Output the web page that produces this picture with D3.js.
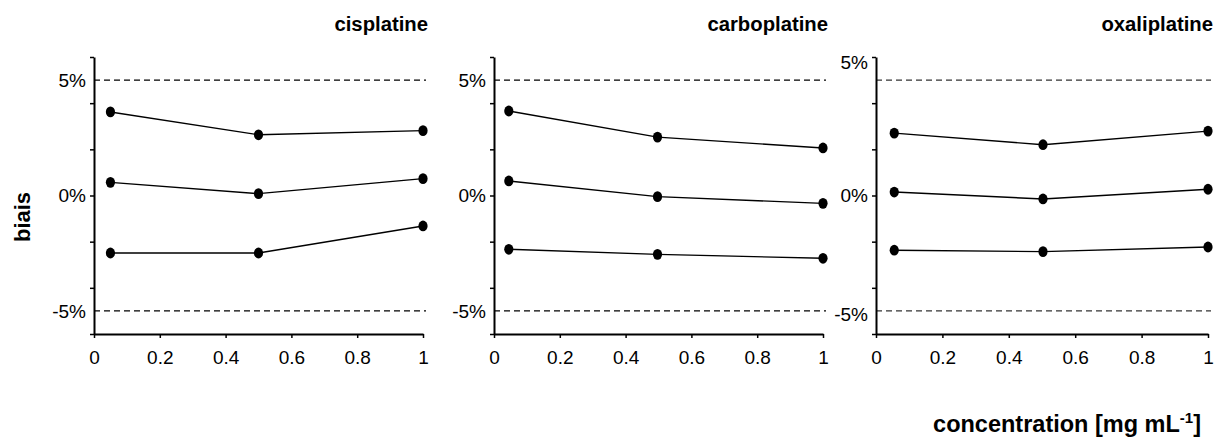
<!DOCTYPE html>
<html><head><meta charset="utf-8">
<script src="https://cdn.jsdelivr.net/npm/d3@7"></script>
<style>
html,body{margin:0;padding:0;background:#fff;}
text{font-family:"Liberation Sans",Arial,Helvetica,sans-serif;fill:#000;}
</style></head>
<body>
<svg id="chart" width="1220" height="438"></svg>
<script>
// ---- data ----
const panelNames = ["cisplatine", "carboplatine", "oxaliplatine"];
const xTicks = [0, 0.2, 0.4, 0.6, 0.8, 1];
const xTickLabels = ["0", "0.2", "0.4", "0.6", "0.8", "1"];
const yTicks = [-6, -4, -2, 0, 2, 4, 6];
const limitLines = [5, -5];
const yLabelText = ["5%", "0%", "-5%"];
const yLabelPosCis = [5, 0, -5];
const yLabelPosCarbo = [5, 0, -5];
const yLabelPosOxa = [5.75, 0, -5.13];

const concCis = [0.05, 0.5, 1];
const concCarbo = [0.045, 0.497, 1];
const concOxa = [0.055, 0.503, 1];

const cisHigh = [3.62, 2.63, 2.81];
const cisMid = [0.57, 0.08, 0.73];
const cisLow = [-2.49, -2.49, -1.32];

const carboHigh = [3.66, 2.53, 2.06];
const carboMid = [0.63, -0.05, -0.34];
const carboLow = [-2.33, -2.55, -2.72];

const oxaHigh = [2.70, 2.20, 2.79];
const oxaMid = [0.15, -0.15, 0.27];
const oxaLow = [-2.37, -2.43, -2.23];

const panels = [
  {name: panelNames[0], conc: concCis, series: [cisHigh, cisMid, cisLow], labelPos: yLabelPosCis, x0: 94, x1: 423, dash: "#000"},
  {name: panelNames[1], conc: concCarbo, series: [carboHigh, carboMid, carboLow], labelPos: yLabelPosCarbo, x0: 494, x1: 823, dash: "#000"},
  {name: panelNames[2], conc: concOxa, series: [oxaHigh, oxaMid, oxaLow], labelPos: yLabelPosOxa, x0: 876, x1: 1208, dash: "#333"}
];

const svg = d3.select("#chart");
const yTop = 57, yBot = 334;
const y = d3.scaleLinear().domain([-6, 6]).range([yBot, yTop]);

panels.forEach(p => {
  const x = d3.scaleLinear().domain([0, 1]).range([p.x0, p.x1]);
  const g = svg.append("g");

  // limit dashed lines
  g.selectAll("line.lim").data(limitLines).enter().append("line")
    .attr("x1", p.x0).attr("x2", p.x1 + 3)
    .attr("y1", d => y(d)).attr("y2", d => y(d))
    .attr("stroke", p.dash).attr("stroke-width", 1.1)
    .attr("stroke-dasharray", "6,4");

  // x axis
  const xAxis = d3.axisBottom(x).tickValues(xTicks)
    .tickFormat((d, i) => xTickLabels[i]).tickSizeInner(4).tickSizeOuter(0).tickPadding(13);
  const gx = g.append("g").attr("transform", `translate(0,${yBot})`).call(xAxis);
  gx.select(".domain").attr("stroke-width", 2);
  gx.selectAll(".tick line").attr("stroke-width", 1.5);
  gx.selectAll(".tick text").attr("font-size", 19).attr("font-family", "Liberation Sans, Arial, sans-serif");

  // y axis (ticks only)
  const yAxis = d3.axisLeft(y).tickValues(yTicks).tickFormat("").tickSizeInner(4).tickSizeOuter(0);
  const gy = g.append("g").attr("transform", `translate(${p.x0},0)`).call(yAxis);
  gy.select(".domain").attr("stroke-width", 2);
  gy.selectAll(".tick line").attr("stroke-width", 1.5);

  // y labels
  g.selectAll("text.ylab").data(yLabelText).enter().append("text")
    .attr("x", p.x0 - 8).attr("y", (d, i) => y(p.labelPos[i]))
    .attr("dy", "0.35em").attr("text-anchor", "end").attr("font-size", 19)
    .text(d => d);

  // series
  const line = d3.line().x((d, i) => x(p.conc[i])).y(d => y(d));
  p.series.forEach(s => {
    g.append("path").datum(s).attr("d", line)
      .attr("fill", "none").attr("stroke", "#000").attr("stroke-width", 1.4);
    g.selectAll(null).data(s).enter().append("ellipse")
      .attr("cx", (d, i) => x(p.conc[i])).attr("cy", d => y(d))
      .attr("rx", 4.6).attr("ry", 5.4).attr("fill", "#000");
  });

  // title
  g.append("text").attr("x", p.x1 + 5).attr("y", 31)
    .attr("text-anchor", "end").attr("font-size", 20.3).attr("font-weight", "bold")
    .text(p.name);
});

// y axis title
svg.append("text")
  .attr("transform", "translate(30,217) rotate(-90)")
  .attr("text-anchor", "middle").attr("font-size", 22).attr("font-weight", "bold")
  .text("biais");

// x axis title
const xt = svg.append("text").attr("x", 1201).attr("y", 432)
  .attr("text-anchor", "end").attr("font-size", 23.5).attr("font-weight", "bold");
xt.append("tspan").text("concentration [mg mL");
xt.append("tspan").attr("font-size", 15).attr("dy", -9).text("-1");
xt.append("tspan").attr("dy", 9).text("]");
</script>
</body></html>
